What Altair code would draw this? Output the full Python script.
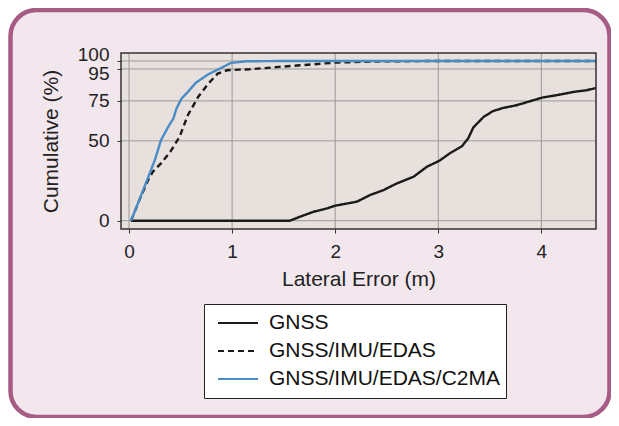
import altair as alt
import pandas as pd

# ---- data ----
series_names = ["GNSS", "GNSS/IMU/EDAS", "GNSS/IMU/EDAS/C2MA"]

gnss_x = [0.02, 1.56, 1.66, 1.79, 1.92, 2.0, 2.21, 2.34, 2.47, 2.6, 2.76, 2.89, 3.01,
          3.11, 3.23, 3.29, 3.34, 3.44, 3.53, 3.63, 3.76, 3.89, 4.01, 4.15, 4.31, 4.44, 4.53]
gnss_y = [0, 0, 2.5, 5.6, 7.7, 9.4, 11.9, 16.1, 19.2, 23.4, 27.5, 33.8, 37.5,
          42.1, 46.7, 51.5, 58.4, 65, 68.6, 70.6, 72.3, 74.8, 77.1, 78.6, 80.6, 81.7, 83.1]

edas_x = [0.02, 0.10, 0.185, 0.23, 0.31, 0.40, 0.49, 0.57, 0.67, 0.77, 0.86, 0.95, 1.07,
          1.17, 1.46, 1.66, 2.0, 2.47, 3.0, 4.53]
edas_y = [0, 12.9, 25.4, 30.6, 35.9, 43.1, 52.5, 66, 77.5, 85.9, 92.1, 94.2, 94.6,
          94.8, 96.3, 97.3, 99, 99.8, 100, 100]

c2ma_x = [0.02, 0.15, 0.2, 0.25, 0.31, 0.38, 0.43, 0.46, 0.51, 0.57, 0.65, 0.77, 0.88,
          0.99, 1.14, 1.5, 2.0, 3.0, 4.53]
c2ma_y = [0, 21.3, 29.6, 37.9, 50.4, 58.8, 64, 70.2, 76.5, 80.6, 86.5, 91.7, 95.2,
          98.8, 99.8, 100, 100, 100, 100]

x_ticks = [0, 1, 2, 3, 4]
y_ticks = [0, 50, 75, 95, 100]

rows = []
for name, xs, ys in [(series_names[0], gnss_x, gnss_y),
                     (series_names[1], edas_x, edas_y),
                     (series_names[2], c2ma_x, c2ma_y)]:
    for i, (a, b) in enumerate(zip(xs, ys)):
        rows.append({"series": name, "x": a, "y": b, "order": i})
df = pd.DataFrame(rows)

W, H = 475, 176
FONT = "Liberation Sans"
LFS = 19   # tick labels
TFS = 21   # titles / legend

xscale = alt.Scale(domain=[-0.078, 4.53], nice=False, zero=False)
yscale = alt.Scale(domain=[-5.2, 105], nice=False, zero=False)

x_axis = alt.Axis(values=x_ticks, grid=False, domain=False, tickColor="#333",
                  tickSize=4, labelFontSize=LFS, labelFont=FONT, labelColor="#222",
                  labelPadding=9, labelOverlap=False,
                  title="Lateral Error (m)", titleFont=FONT,
                  titleFontSize=TFS, titleFontWeight="normal", titleColor="#222",
                  titleBaseline="alphabetic", titleY=56.7, zindex=1)
y_axis = alt.Axis(values=y_ticks, grid=False, domain=False, tickColor="#333",
                  tickSize=4, labelFontSize=LFS, labelFont=FONT, labelColor="#222",
                  labelPadding=8, labelOverlap=False,
                  labelOffset={"condition": [{"test": "datum.value == 100", "value": -6},
                                             {"test": "datum.value == 95", "value": 5}],
                               "value": 0},
                  title="Cumulative (%)", titleFont=FONT, titleFontSize=TFS,
                  titleFontWeight="normal", titleColor="#222", titleAngle=270,
                  titleAlign="center", titleBaseline="alphabetic",
                  titleX=-64, titleY=88, zindex=1)

frame = alt.Chart(pd.DataFrame({"a": [0]})).mark_rect(
    fill="#f3e7ee", stroke="#a65c85", strokeWidth=4.5, cornerRadius=26
).encode(x=alt.value(-110.5), x2=alt.value(488.5), y=alt.value(-43), y2=alt.value(364))

plotbg = alt.Chart(pd.DataFrame({"a": [0]})).mark_rect(fill="#e8e0dc").encode(
    x=alt.value(0), x2=alt.value(W), y=alt.value(0), y2=alt.value(H))

vgrid = alt.Chart(pd.DataFrame({"v": x_ticks})).mark_rule(color="#9a9a9a", strokeWidth=1).encode(
    x=alt.X("v:Q", scale=xscale, axis=x_axis))
hgrid = alt.Chart(pd.DataFrame({"v": y_ticks})).mark_rule(color="#9a9a9a", strokeWidth=1).encode(
    y=alt.Y("v:Q", scale=yscale, axis=y_axis))

leg = dict(title=None, orient="none", legendX=83, legendY=251,
           fillColor="white", strokeColor="#222", padding=5,
           symbolType="stroke", symbolSize=1600, clipHeight=28, symbolOffset=8,
           symbolStrokeWidth=2, labelFontSize=TFS, labelFont=FONT,
           labelColor="#111", rowPadding=0, labelOffset=10, labelLimit=400)

lines = alt.Chart(df).mark_line(clip=True, strokeWidth=2.4).encode(
    x=alt.X("x:Q", scale=xscale, axis=x_axis),
    y=alt.Y("y:Q", scale=yscale, axis=y_axis),
    color=alt.Color("series:N", scale=alt.Scale(domain=series_names,
                                                 range=["#1a1a1a", "#1a1a1a", "#4a8cc6"]),
                    legend=alt.Legend(**leg)),
    strokeDash=alt.StrokeDash("series:N", scale=alt.Scale(domain=series_names,
                                                           range=[[1, 0], [6, 4], [1, 0]]),
                              legend=alt.Legend(**leg)),
    order="order:Q",
)

border = alt.Chart(pd.DataFrame({"a": [0]})).mark_rect(
    fill=None, stroke="#333", strokeWidth=1.5).encode(
    x=alt.value(0), x2=alt.value(W), y=alt.value(0), y2=alt.value(H))

chart = alt.layer(frame, plotbg, vgrid, hgrid, lines, border).properties(
    width=W, height=H,
    autosize=alt.AutoSizeParams(type="none"),
    padding={"left": 113, "top": 45, "right": 15, "bottom": 189},
    background="white",
).configure_view(stroke=None)

chart.save("out.html", embed_options={"renderer": "svg", "actions": False})
